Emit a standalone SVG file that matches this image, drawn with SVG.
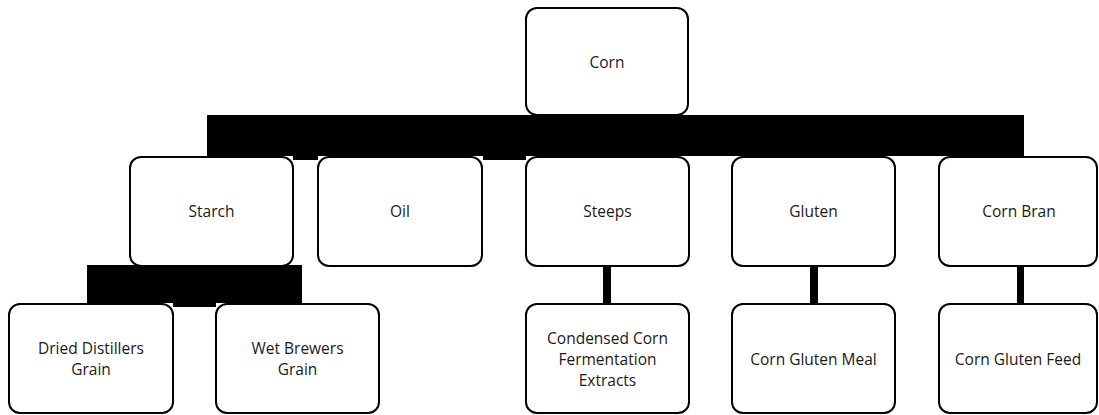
<svg xmlns="http://www.w3.org/2000/svg" width="1099" height="415" viewBox="0 0 1099 415">
<style>
.box{fill:#fff;stroke:#000;stroke-width:2}
.lbl{font-family:"Open Sans","Liberation Sans",sans-serif;font-size:15.5px;fill:#1a1a1a;text-anchor:middle;dominant-baseline:central}
.con{fill:#000}
</style>
<rect width="1099" height="415" fill="#fff"/>
<g id="connectors">
<rect class="con" x="207" y="115" width="817" height="41"/>
<rect class="con" x="293" y="155" width="25" height="5"/>
<rect class="con" x="483" y="155" width="43" height="5"/>
<rect class="con" x="87" y="265" width="215" height="38"/>
<rect class="con" x="173" y="300" width="43" height="7"/>
<rect class="con" x="603" y="265" width="8" height="40"/>
<rect class="con" x="810" y="265" width="8" height="40"/>
<rect class="con" x="1017" y="265" width="7" height="40"/>
</g>
<g id="corn"><rect class="box" x="526" y="8" width="162" height="107" rx="11"/><text class="lbl" x="607" y="62">Corn</text></g>
<g id="starch"><rect class="box" x="130" y="157" width="163" height="109" rx="11"/><text class="lbl" x="211.5" y="211">Starch</text></g>
<g id="oil"><rect class="box" x="318" y="157" width="164" height="109" rx="11"/><text class="lbl" x="400" y="211">Oil</text></g>
<g id="steeps"><rect class="box" x="526" y="157" width="163" height="109" rx="11"/><text class="lbl" x="607.5" y="211">Steeps</text></g>
<g id="gluten"><rect class="box" x="732" y="157" width="163" height="109" rx="11"/><text class="lbl" x="813.5" y="211">Gluten</text></g>
<g id="cornbran"><rect class="box" x="939" y="157" width="158" height="109" rx="11"/><text class="lbl" x="1019" y="211">Corn Bran</text></g>
<g id="ddg"><rect class="box" x="9" y="304" width="164" height="109" rx="11"/><text class="lbl" x="91" y="348">Dried Distillers</text><text class="lbl" x="91" y="369">Grain</text></g>
<g id="wbg"><rect class="box" x="216" y="304" width="163" height="109" rx="11"/><text class="lbl" x="297.5" y="348">Wet Brewers</text><text class="lbl" x="297.5" y="369">Grain</text></g>
<g id="ccfe"><rect class="box" x="526" y="304" width="163" height="109" rx="11"/><text class="lbl" x="607.5" y="338">Condensed Corn</text><text class="lbl" x="607.5" y="359">Fermentation</text><text class="lbl" x="607.5" y="380">Extracts</text></g>
<g id="cgm"><rect class="box" x="732" y="304" width="163" height="109" rx="11"/><text class="lbl" x="813.5" y="359">Corn Gluten Meal</text></g>
<g id="cgf"><rect class="box" x="939" y="304" width="158" height="109" rx="11"/><text class="lbl" x="1018" y="359">Corn Gluten Feed</text></g>
</svg>
